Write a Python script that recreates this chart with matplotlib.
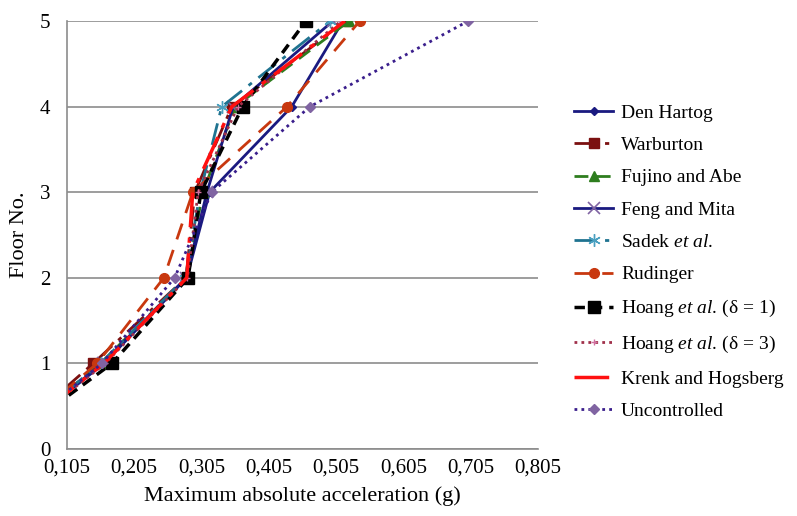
import matplotlib.pyplot as plt
from matplotlib.ticker import FixedLocator

plt.rcParams['font.family'] = ['Liberation Serif', 'DejaVu Serif']
plt.rcParams['mathtext.fontset'] = 'custom'
plt.rcParams['mathtext.rm'] = 'Liberation Serif'
plt.rcParams['mathtext.it'] = 'Liberation Serif:italic'

# floor numbers and max absolute acceleration (g) per method
floors = [0, 1, 2, 3, 4, 5]
den_hartog = [0.0, 0.160, 0.283, 0.317, 0.439, 0.515]
warburton = [0.0, 0.144, 0.282, 0.295, 0.350, 0.520]
fujino_abe = [0.0, 0.155, 0.283, 0.307, 0.355, 0.524]
feng_mita = [0.0, 0.158, 0.282, 0.313, 0.352, 0.500]
sadek = [0.0, 0.155, 0.281, 0.303, 0.335, 0.496]
rudinger = [0.0, 0.150, 0.249, 0.292, 0.432, 0.540]
hoang_d1 = [0.0, 0.172, 0.285, 0.304, 0.366, 0.460]
hoang_d3 = [0.0, 0.162, 0.284, 0.300, 0.359, 0.512]
krenk = [0.0, 0.160, 0.283, 0.292, 0.350, 0.518]
uncontrolled = [0.0, 0.157, 0.265, 0.320, 0.466, 0.701]

x_ticks = [0.105, 0.205, 0.305, 0.405, 0.505, 0.605, 0.705, 0.805]
x_ticklabels = ['0,105', '0,205', '0,305', '0,405', '0,505', '0,605', '0,705', '0,805']

fig = plt.figure(figsize=(7.97, 5.16), dpi=100)
ax = fig.add_axes([0.084, 0.130, 0.591, 0.829])

lw = 2.0
ax.plot(den_hartog, floors, color='#1a1a80', lw=lw, marker='D', ms=4,
        label='Den Hartog')
ax.plot(warburton, floors, color='#7b1010', lw=lw, dashes=(8, 3, 1.5, 3),
        marker='s', ms=7, label='Warburton')
ax.plot(fujino_abe, floors, color='#2e7d1e', lw=lw, dashes=(5, 3),
        marker='^', ms=7, label='Fujino and Abe')
ax.plot(feng_mita, floors, color='#1a1a80', lw=lw, marker='x', ms=8,
        mec='#8064a2', mew=1.2, label='Feng and Mita')
ax.plot(sadek, floors, color='#1f7390', lw=lw, dashes=(8, 3, 1.5, 3),
        marker=(6, 2, 0), ms=9, mec='#4aa0c0', mew=1.0,
        label=r'Sadek $\mathit{et\ al.}$')
ax.plot(rudinger, floors, color='#c8380f', lw=lw, dashes=(6, 4),
        marker='o', ms=7, label='Rudinger')
ax.plot(hoang_d1, floors, color='black', lw=lw + 0.5, dashes=(3, 2),
        marker='s', ms=8, label=r'Hoang $\mathit{et\ al.}\,$(δ = 1)')
ax.plot(hoang_d3, floors, color='#a0304a', lw=lw, dashes=(1, 1.5),
        marker='+', ms=5, mec='#d070a0', label=r'Hoang $\mathit{et\ al.}\,$(δ = 3)')
ax.plot(krenk, floors, color='#ff1010', lw=lw + 0.5, dashes=(10, 3, 1.5, 3),
        label='Krenk and Hogsberg')
ax.plot(uncontrolled, floors, color='#3a1e8c', lw=lw, dashes=(1, 1.5),
        marker='D', ms=5, mfc='#8064a2', mec='#8064a2', label='Uncontrolled')

ax.set_xlim(0.105, 0.805)
ax.set_ylim(0, 5)
ax.xaxis.set_major_locator(FixedLocator(x_ticks))
ax.set_xticklabels(x_ticklabels)
ax.set_yticks(floors)
ax.tick_params(length=0, labelsize=15, pad=7)
ax.tick_params(axis='y', pad=12)
ax.grid(axis='y', color='#8c8c8c', lw=1.2)
ax.set_axisbelow(True)
for side in ['top', 'right']:
    ax.spines[side].set_visible(False)
for side in ['left', 'bottom']:
    ax.spines[side].set_color('#8c8c8c')
    ax.spines[side].set_linewidth(1.2)

ax.set_xlabel('Maximum absolute acceleration (g)', fontsize=16, labelpad=6)
ax.set_ylabel('Floor No.', fontsize=16, labelpad=8)

ax.legend(loc='center left', bbox_to_anchor=(1.04, 0.437), frameon=False,
          fontsize=14, handlelength=2.0, labelspacing=0.76, handletextpad=0.4)

fig.savefig('out.png', dpi=100)
